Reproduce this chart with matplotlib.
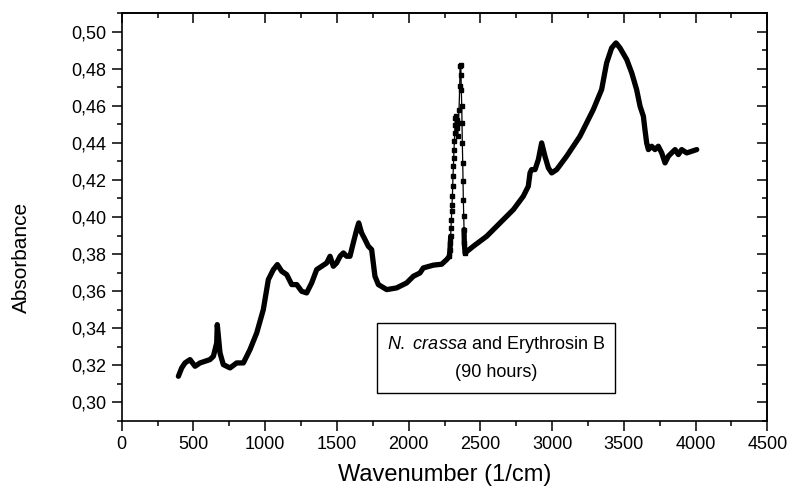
import numpy as np
import matplotlib
matplotlib.use('Agg')
import matplotlib.pyplot as plt
from matplotlib.ticker import MultipleLocator, FuncFormatter
from matplotlib.patches import Rectangle

plt.rcParams['font.family'] = ['Liberation Sans', 'DejaVu Sans']
plt.rcParams['mathtext.fontset'] = 'custom'
plt.rcParams['mathtext.rm'] = 'Liberation Sans'
plt.rcParams['mathtext.it'] = 'Liberation Sans:italic'

# spectrum (wavenumber in 1/cm, absorbance)
wavenumber = [395, 418, 441, 476, 511, 546, 615, 639, 662, 666, 685, 708, 755, 801, 848,
              894, 941, 987, 1022, 1057, 1085, 1115, 1150, 1185, 1220, 1254, 1289, 1324,
              1359, 1394, 1429, 1452, 1475, 1498, 1522, 1545, 1568, 1591, 1614, 1638, 1652,
              1672, 1696, 1719, 1742, 1765, 1789, 1847, 1916, 1986, 2033, 2079, 2102, 2172,
              2230, 2265,
              # CO2 band, sparse points
              2284, 2288, 2291, 2293, 2295, 2298, 2300, 2302, 2305, 2307, 2309, 2312, 2314,
              2316, 2319, 2321, 2323, 2326, 2330, 2335, 2337, 2342, 2346, 2351, 2356, 2358,
              2363, 2365, 2367, 2370, 2372, 2374, 2377, 2379, 2381, 2384, 2386, 2388, 2393,
              2451, 2544, 2637, 2730, 2799, 2834, 2846, 2857, 2881, 2904, 2927, 2950, 2974,
              2997, 3032, 3101, 3194, 3287, 3345, 3380, 3415, 3445, 3473, 3520, 3555, 3589,
              3613, 3636, 3647, 3659, 3671, 3694, 3717, 3740, 3764, 3787, 3810, 3833, 3857,
              3880, 3903, 3938, 3973, 4008]
absorbance = [0.3140, 0.3185, 0.3212, 0.3230, 0.3194, 0.3212, 0.3230, 0.3248, 0.3320, 0.3419,
              0.3266, 0.3203, 0.3185, 0.3212, 0.3212, 0.3284, 0.3374, 0.3500, 0.3662, 0.3716,
              0.3743, 0.3707, 0.3689, 0.3635, 0.3635, 0.3599, 0.3590, 0.3644, 0.3716, 0.3734,
              0.3752, 0.3788, 0.3734, 0.3752, 0.3788, 0.3806, 0.3788, 0.3788, 0.3860, 0.3932,
              0.3968, 0.3914, 0.3878, 0.3842, 0.3824, 0.3680, 0.3635, 0.3608, 0.3617, 0.3644,
              0.3680, 0.3698, 0.3725, 0.3740, 0.3745, 0.3770,
              0.3788, 0.3824, 0.3860, 0.3896, 0.3941, 0.3986, 0.4031, 0.4067, 0.4112, 0.4166,
              0.4220, 0.4274, 0.4319, 0.4364, 0.4409, 0.4454, 0.4499, 0.4535, 0.4544, 0.4526,
              0.4481, 0.4436, 0.4508, 0.4580, 0.4706, 0.4814, 0.4823, 0.4769, 0.4688, 0.4598,
              0.4508, 0.4400, 0.4292, 0.4193, 0.4094, 0.4004, 0.3932, 0.3860, 0.3806,
              0.3842, 0.3896, 0.3968, 0.4040, 0.4112, 0.4166, 0.4238, 0.4256, 0.4256, 0.4310,
              0.4400, 0.4328, 0.4265, 0.4238, 0.4256, 0.4328, 0.4436, 0.4580, 0.4688, 0.4832,
              0.4913, 0.4940, 0.4913, 0.4850, 0.4778, 0.4688, 0.4598, 0.4544, 0.4472, 0.4400,
              0.4364, 0.4382, 0.4364, 0.4382, 0.4346, 0.4292, 0.4328, 0.4346, 0.4364, 0.4337,
              0.4364, 0.4346, 0.4355, 0.4364]

x = np.array(wavenumber, dtype=float)
y = np.array(absorbance)

fig = plt.figure(figsize=(7.94, 4.92), dpi=100)
ax = fig.add_axes([0.1533, 0.1449, 0.8131, 0.8281])

low = x <= 2293
high = x >= 2386
band = (x >= 2284) & (x <= 2393)
ax.plot(x[low], y[low], color='black', lw=3.8, solid_joinstyle='round', solid_capstyle='round')
ax.plot(x[high], y[high], color='black', lw=3.8, solid_joinstyle='round', solid_capstyle='round')
ax.plot(x[band], y[band], color='black', lw=0.9, marker='s', ms=3.2)

ax.set_xlim(0, 4500)
ax.set_ylim(0.29, 0.51)
ax.xaxis.set_major_locator(MultipleLocator(500))
ax.xaxis.set_minor_locator(MultipleLocator(250))
ax.yaxis.set_major_locator(MultipleLocator(0.02))
ax.yaxis.set_minor_locator(MultipleLocator(0.01))
ax.yaxis.set_major_formatter(FuncFormatter(lambda v, p: ('%.2f' % v).replace('.', ',')))
ax.tick_params(which='major', direction='out', length=7, width=1.1, labelsize=13, pad=4)
ax.tick_params(which='minor', direction='out', length=3.8, width=1.1)
ax.tick_params(top=False, right=False)
for s in ax.spines.values():
    s.set_linewidth(1.2)

# inward ticks on the top and right side
top = ax.secondary_xaxis('top')
top.xaxis.set_major_locator(MultipleLocator(500))
top.xaxis.set_minor_locator(MultipleLocator(250))
top.tick_params(which='major', direction='in', length=7, width=1.1, labeltop=False)
top.tick_params(which='minor', direction='in', length=3.8, width=1.1)
right = ax.secondary_yaxis('right')
right.yaxis.set_major_locator(MultipleLocator(0.02))
right.yaxis.set_minor_locator(MultipleLocator(0.01))
right.tick_params(which='major', direction='in', length=7, width=1.1, labelright=False)
right.tick_params(which='minor', direction='in', length=3.8, width=1.1)
top.spines['top'].set_linewidth(1.2)
right.spines['right'].set_linewidth(1.2)

ax.set_xlabel('Wavenumber (1/cm)', fontsize=17, labelpad=8)
ax.set_ylabel('Absorbance', fontsize=15)
ax.yaxis.set_label_coords(-0.14, 0.40)

ax.add_patch(Rectangle((0.3955, 0.068), 0.3686, 0.172, transform=ax.transAxes,
                       fill=False, edgecolor='black', lw=1.0))
ax.text(0.5798, 0.186, r'$\it{N.\ crassa}$ and Erythrosin B', transform=ax.transAxes,
        ha='center', va='center', fontsize=13)
ax.text(0.5798, 0.118, '(90 hours)', transform=ax.transAxes,
        ha='center', va='center', fontsize=13)

plt.savefig('out.png', dpi=100)
